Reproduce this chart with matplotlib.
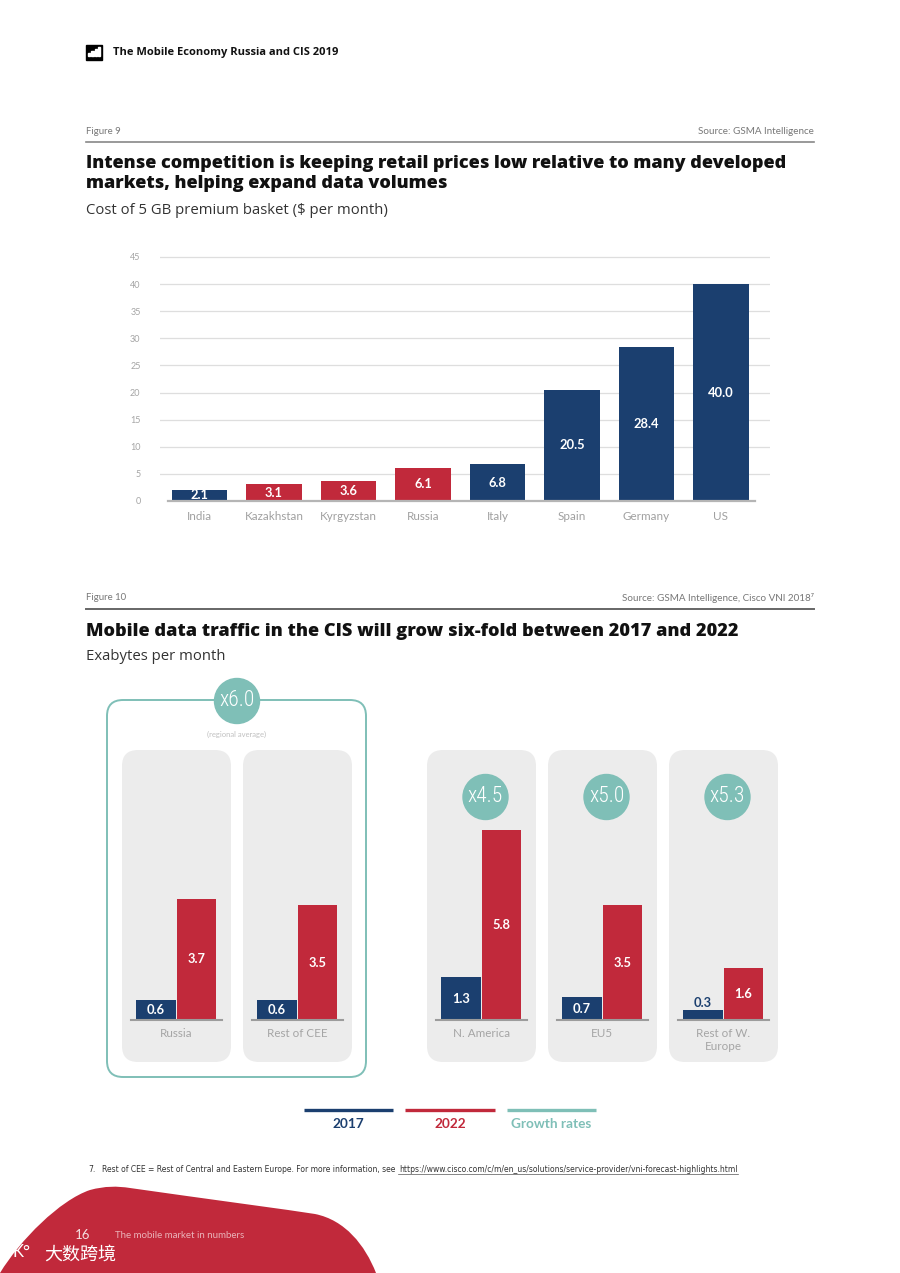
import matplotlib
matplotlib.use("Agg")
import matplotlib.pyplot as plt
from matplotlib.patches import FancyBboxPatch, Circle, PathPatch, Rectangle
from matplotlib.path import Path

# ---------------- data ----------------
countries = ["India", "Kazakhstan", "Kyrgyzstan", "Russia", "Italy", "Spain", "Germany", "US"]
cost_5gb = [2.1, 3.1, 3.6, 6.1, 6.8, 20.5, 28.4, 40.0]
cis_flags = [False, True, True, True, False, False, False, False]
yticks_top = [0, 5, 10, 15, 20, 25, 30, 35, 40, 45]

regions = ["Russia", "Rest of CEE", "N. America", "EU5", "Rest of W.\nEurope"]
traffic_2017 = [0.6, 0.6, 1.3, 0.7, 0.3]
traffic_2022 = [3.7, 3.5, 5.8, 3.5, 1.6]
growth_labels = [None, None, "x4.5", "x5.0", "x5.3"]
regional_growth = "x6.0"
legend_labels = ["2017", "2022", "Growth rates"]

NAVY = "#1b3f6f"
RED = "#c1293b"
TEAL = "#7fbfb7"
PANEL = "#ececec"

plt.rcParams['font.family'] = ['Lato', 'DejaVu Sans']
HEAD = ['Open Sans', 'DejaVu Sans']
NARROW = ['Liberation Sans Narrow', 'DejaVu Sans']
THIN = ['Roboto Condensed', 'Roboto', 'DejaVu Sans']

W, H = 900, 1273
fig = plt.figure(figsize=(9, 12.73), dpi=100)
fig.patch.set_facecolor("white")

def fbox(x0, y0, x1, y1):
    return [x0 / W, 1 - y1 / H, (x1 - x0) / W, (y1 - y0) / H]

bg = fig.add_axes([0, 0, 1, 1])
bg.set_xlim(0, W)
bg.set_ylim(H, 0)
bg.axis("off")

# header
bg.add_patch(Rectangle((86, 45), 16, 15, color="black"))
for i, hh in enumerate([3, 5, 7, 9]):
    bg.add_patch(Rectangle((88 + i * 3.3, 56 - hh), 2.2, hh, color="white"))
bg.text(113, 52, "The Mobile Economy Russia and CIS 2019", fontsize=8.05, fontweight="bold",
        va="center", ha="left", color="#111111", family=HEAD)

# figure 9 header
bg.text(86, 132, "Figure 9", fontsize=6.9, color="#777777", va="center")
bg.text(814, 132, "Source: GSMA Intelligence", fontsize=7.1, color="#777777", va="center", ha="right")
bg.plot([86, 814], [142, 142], color="#888888", lw=1.2)
bg.text(86, 163, "Intense competition is keeping retail prices low relative to many developed",
        fontsize=12.95, fontweight="heavy", va="center", ha="left", color="#111111", family=HEAD)
bg.text(86, 184, "markets, helping expand data volumes",
        fontsize=12.95, fontweight="heavy", va="center", ha="left", color="#111111", family=HEAD)
bg.text(86, 211, "Cost of 5 GB premium basket ($ per month)", fontsize=10.7, color="#333333",
        va="center", family=HEAD)

# figure 10 header
bg.text(86, 598, "Figure 10", fontsize=6.9, color="#777777", va="center")
bg.text(814, 598, "Source: GSMA Intelligence, Cisco VNI 2018\u2077", fontsize=7.1, color="#777777",
        va="center", ha="right")
bg.plot([86, 814], [609, 609], color="#666666", lw=1.4)
bg.text(86, 631, "Mobile data traffic in the CIS will grow six-fold between 2017 and 2022",
        fontsize=13.05, fontweight="heavy", va="center", ha="left", color="#111111", family=HEAD)
bg.text(86, 656, "Exabytes per month", fontsize=10.7, color="#333333", va="center", family=HEAD)

# ---------------- top bar chart ----------------
px_per_unit = (501 - 257) / 45.0
ytop = 45.6
ax = fig.add_axes(fbox(160, 501 - ytop * px_per_unit, 770, 501))
ax.set_facecolor("none")
x = list(range(len(countries)))
colors = [RED if c else NAVY for c in cis_flags]
ax.bar(x, cost_5gb, width=0.74, color=colors, zorder=3)
ax.set_xlim(-0.53, 7.658)
ax.set_ylim(0, ytop)
ax.set_yticks(yticks_top)
ax.set_yticklabels([str(v) for v in yticks_top], fontsize=6.5, color="#a5a5a5")
ax.set_xticks(x)
ax.set_xticklabels(countries, fontsize=8.4, color="#a0a0a0")
ax.tick_params(axis="both", length=0)
ax.tick_params(axis="y", pad=14)
ax.tick_params(axis="x", pad=7)
for s in ax.spines.values():
    s.set_visible(False)
for v in yticks_top[1:]:
    ax.axhline(v, color="#dedede", lw=0.9, zorder=1)
ax.plot([-0.42, 7.45], [0, 0], color="#b5b5b5", lw=1.6, zorder=4, clip_on=False)
for xi, v in zip(x, cost_5gb):
    ax.text(xi, v / 2, f"{v:.1f}", ha="center", va="center", color="white",
            fontsize=9.3, fontweight="bold", zorder=5)

# ---------------- bottom panels ----------------
bg.add_patch(FancyBboxPatch((107, 700), 259, 377, boxstyle="round,pad=0,rounding_size=16",
                            fc="none", ec=TEAL, lw=1.4))
panel_lefts = [122, 243, 427, 548, 669]
for pl in panel_lefts:
    bg.add_patch(FancyBboxPatch((pl, 750), 109, 312, boxstyle="round,pad=0,rounding_size=16",
                                fc=PANEL, ec="none"))

bg.add_patch(Circle((237, 701), 22.5, color=TEAL))
bg.text(237, 701, regional_growth, ha="center", va="center", color="white", fontsize=15.5,
        family=THIN, fontstretch="condensed", fontweight="light")
bg.text(237, 734, "(regional average)", ha="center", va="center", color="#c0c0c0", fontsize=5.5)
for pl, g in zip(panel_lefts, growth_labels):
    if g:
        cx = pl + 58.5
        bg.add_patch(Circle((cx, 797), 22.5, color=TEAL))
        bg.text(cx, 797, g, ha="center", va="center", color="white", fontsize=15.5,
                family=THIN, fontstretch="condensed", fontweight="light")

ppu = 32.8
ylim_b = 6.2
for i, pl in enumerate(panel_lefts):
    a = fig.add_axes(fbox(pl + 9, 1020 - ylim_b * ppu, pl + 100, 1020))
    a.set_facecolor("none")
    a.bar([0, 1], [traffic_2017[i], traffic_2022[i]], width=0.98, color=[NAVY, RED], zorder=3)
    a.set_xlim(-0.617, 1.630)
    a.set_ylim(0, ylim_b)
    a.set_yticks([])
    a.set_xticks([0.5])
    a.set_xticklabels([regions[i]], fontsize=8.4, color="#a5a5a5", linespacing=1.15)
    a.tick_params(axis="x", length=0, pad=6)
    for s in ["top", "left", "right"]:
        a.spines[s].set_visible(False)
    a.spines["bottom"].set_color("#9c9c9c")
    a.spines["bottom"].set_linewidth(1.5)
    a.spines["bottom"].set_zorder(4)
    for xi, v, col in [(0, traffic_2017[i], NAVY), (1, traffic_2022[i], RED)]:
        if v * ppu < 16:
            a.text(xi, v + 0.05, f"{v:.1f}", ha="center", va="bottom", color=col,
                   fontsize=9.3, fontweight="bold", zorder=5)
        else:
            a.text(xi, v / 2, f"{v:.1f}", ha="center", va="center", color="white",
                   fontsize=9.3, fontweight="bold", zorder=5)

# legend
leg_cols = [NAVY, RED, TEAL]
leg_x = [(304, 393), (405, 495), (507, 596)]
for (x0, x1), c, lab in zip(leg_x, leg_cols, legend_labels):
    bg.plot([x0, x1], [1110, 1110], color=c, lw=2.4, solid_capstyle="butt")
    bg.text((x0 + x1) / 2, 1124, lab, ha="center", va="center", color=c, fontsize=9.8,
            fontweight="bold")

# footnote
bg.text(88, 1170, "7.", fontsize=5.5, va="center", color="#333333", family=NARROW)
bg.text(102, 1170, "Rest of CEE = Rest of Central and Eastern Europe. For more information, see",
        fontsize=5.5, va="center", color="#333333", family=NARROW)
bg.text(738, 1170, "https://www.cisco.com/c/m/en_us/solutions/service-provider/vni-forecast-highlights.html",
        fontsize=5.5, va="center", ha="right", color="#333333", family=NARROW)
bg.plot([398, 738], [1174, 1174], color="#555555", lw=0.5)

# red blob footer
verts = [(0, 1273), (20, 1240), (60, 1200), (90, 1190),
         (105, 1186), (117, 1186), (130, 1188),
         (200, 1198), (290, 1210), (315, 1214),
         (345, 1220), (365, 1245), (376, 1273),
         (0, 1273)]
codes = [Path.MOVETO, Path.CURVE4, Path.CURVE4, Path.CURVE4,
         Path.CURVE4, Path.CURVE4, Path.CURVE4,
         Path.CURVE4, Path.CURVE4, Path.CURVE4,
         Path.CURVE4, Path.CURVE4, Path.CURVE4,
         Path.CLOSEPOLY]
bg.add_patch(PathPatch(Path(verts, codes), fc=RED, ec="none"))
bg.text(83, 1235, "16", fontsize=9.5, color="#f4dfe1", va="center", ha="center")
bg.text(115, 1235, "The mobile market in numbers", fontsize=7, color="#eab3b9", va="center")
bg.text(44, 1255, "大数跨境", fontsize=13, color="white", va="center",
        family=["Noto Sans CJK SC", "DejaVu Sans"])
bg.text(12, 1252, "K°", fontsize=12, color="white", va="center")

fig.savefig("out.png", dpi=100, facecolor="white")
